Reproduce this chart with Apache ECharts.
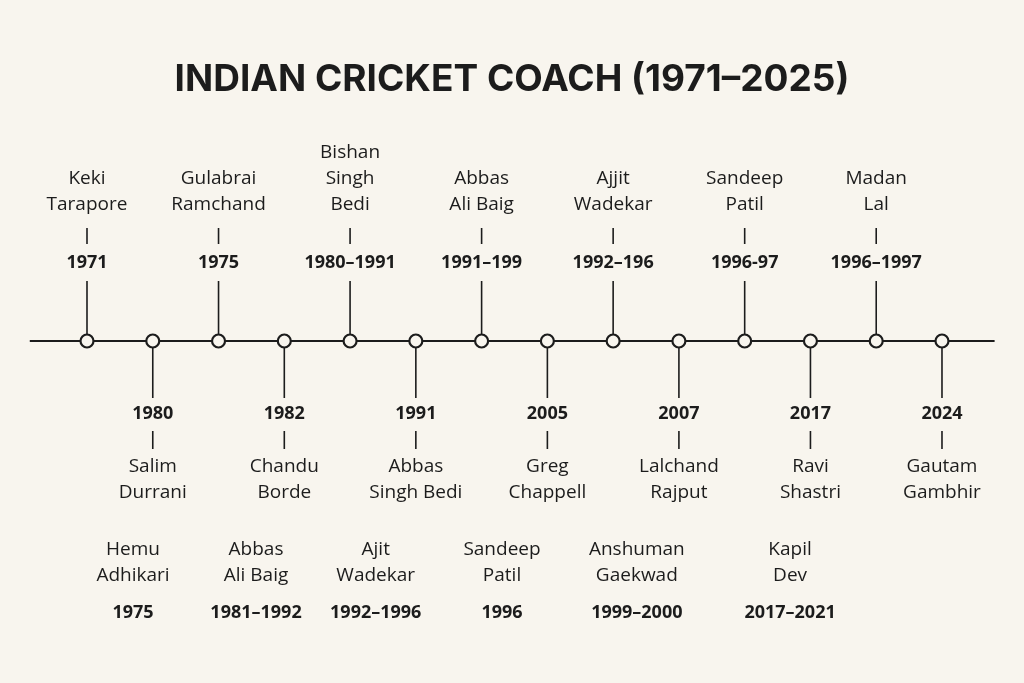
<!DOCTYPE html>
<html>
<head>
<meta charset="utf-8">
<script src="https://cdn.jsdelivr.net/npm/echarts@6/dist/echarts.min.js"></script>
<style>
html,body{margin:0;padding:0;background:#f8f5ee;}
#main{width:1024px;height:683px;}
</style>
</head>
<body>
<div id="main"></div>
<script>
// timeline entries, in order along the line
var topNames = ['Keki\nTarapore', 'Gulabrai\nRamchand', 'Bishan\nSingh\nBedi', 'Abbas\nAli Baig', 'Ajjit\nWadekar', 'Sandeep\nPatil', 'Madan\nLal'];
var topYears = ['1971', '1975', '1980–1991', '1991–199', '1992–196', '1996-97', '1996–1997'];
var lowNames = ['Salim\nDurrani', 'Chandu\nBorde', 'Abbas\nSingh Bedi', 'Greg\nChappell', 'Lalchand\nRajput', 'Ravi\nShastri', 'Gautam\nGambhir'];
var lowYears = ['1980', '1982', '1991', '2005', '2007', '2017', '2024'];
// extra row below the line (position in timeline steps)
var rowPos = [0.70, 2.57, 4.39, 6.31, 8.36, 10.69];
var rowNames = ['Hemu\nAdhikari', 'Abbas\nAli Baig', 'Ajit\nWadekar', 'Sandeep\nPatil', 'Anshuman\nGaekwad', 'Kapil\nDev'];
var rowYears = ['1975', '1981–1992', '1992–1996', '1996', '1999–2000', '2017–2021'];

var INK = '#1c1c1c';
var BG = '#f8f5ee';
var LINE_Y = 341;

var timeline = [], kinds = [], names = [], years = [];
for (var i = 0; i < topNames.length; i++) {
	timeline.push([i * 2, LINE_Y]); kinds.push('top'); names.push(topNames[i]); years.push(topYears[i]);
	timeline.push([i * 2 + 1, LINE_Y]); kinds.push('low'); names.push(lowNames[i]); years.push(lowYears[i]);
}
var extra = [];
for (var j = 0; j < rowPos.length; j++) extra.push([rowPos[j], LINE_Y]);

function txt(x, y, s, bold, vAlign) {
	return {
		type: 'text', z2: 5,
		style: {
			x: x, y: y, text: s, align: 'center', verticalAlign: vAlign,
			fill: INK, lineHeight: 26,
			font: (bold ? 'bold 18px' : '19px') + ' "Open Sans", "DejaVu Sans", sans-serif'
		}
	};
}
function seg(x, y1, y2) {
	return { type: 'line', shape: { x1: x, y1: y1, x2: x, y2: y2 }, style: { stroke: INK, lineWidth: 1.6 } };
}

function drawTimeline(params, api) {
	var k = params.dataIndex;
	var x = api.coord([api.value(0), LINE_Y])[0];
	var els = [];
	if (kinds[k] === 'top') {
		els.push(txt(x, 218, names[k], false, 'bottom'));
		els.push(seg(x, 228, 244));
		els.push(txt(x, 263, years[k], true, 'middle'));
		els.push(seg(x, 281, 334));
	} else {
		els.push(seg(x, 348, 398));
		els.push(txt(x, 414, years[k], true, 'middle'));
		els.push(seg(x, 431, 449));
		els.push(txt(x, 454, names[k], false, 'top'));
	}
	els.push({ type: 'circle', z2: 10, shape: { cx: x, cy: LINE_Y, r: 6.5 }, style: { fill: BG, stroke: INK, lineWidth: 2.2 } });
	return { type: 'group', children: els };
}
function drawRow(params, api) {
	var k = params.dataIndex;
	var x = api.coord([api.value(0), LINE_Y])[0];
	return { type: 'group', children: [
		txt(x, 537, rowNames[k], false, 'top'),
		txt(x, 613, rowYears[k], true, 'middle')
	] };
}

var myChart = echarts.init(document.getElementById('main'));
var option = {
	backgroundColor: BG,
	animation: false,
	title: {
		text: 'INDIAN CRICKET COACH (1971–2025)',
		left: 'center', top: 56,
		textStyle: { fontFamily: 'Inter, "DejaVu Sans", sans-serif', fontWeight: 'bold', fontSize: 37, color: INK }
	},
	grid: { left: 0, right: 0, top: 0, bottom: 0 },
	xAxis: { type: 'value', min: -1.3228, max: 14.247, show: false },
	yAxis: { type: 'value', min: 0, max: 683, inverse: true, show: false },
	series: [
		{
			type: 'line', silent: true, symbol: 'none',
			lineStyle: { color: INK, width: 2.2 },
			data: [[-0.87, LINE_Y], [13.8, LINE_Y]]
		},
		{ type: 'custom', renderItem: drawTimeline, data: timeline, z: 3 },
		{ type: 'custom', renderItem: drawRow, data: extra, z: 3 }
	]
};
myChart.setOption(option);
</script>
</body>
</html>
